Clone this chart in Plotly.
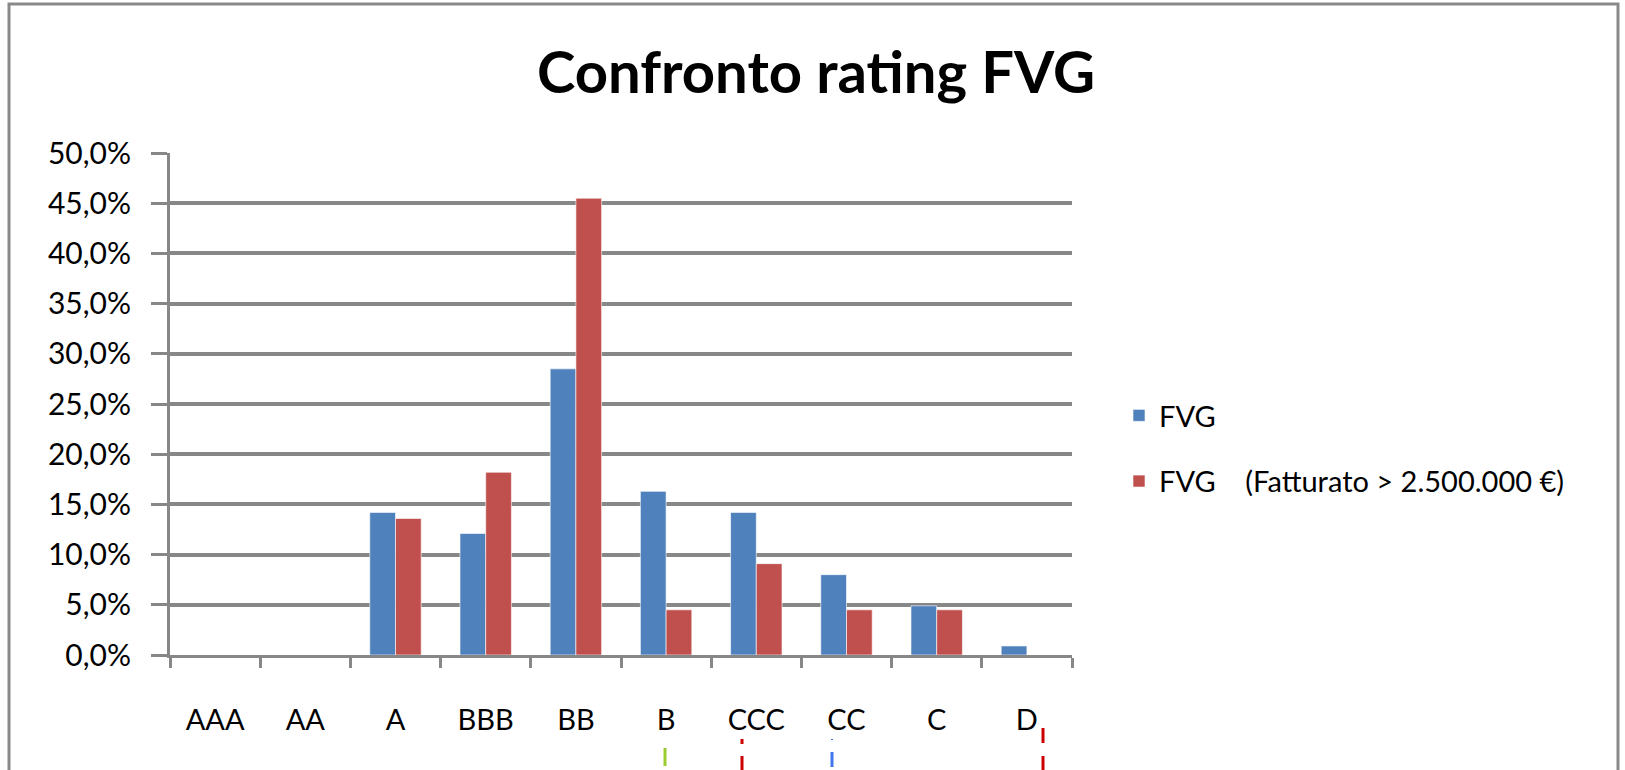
import plotly.graph_objects as go

categories = ["AAA", "AA", "A", "BBB", "BB", "B", "CCC", "CC", "C", "D"]
fvg_all = [0.0, 0.0, 0.142, 0.121, 0.285, 0.163, 0.142, 0.080, 0.049, 0.009]
fvg_big = [0.0, 0.0, 0.136, 0.182, 0.455, 0.045, 0.091, 0.045, 0.045, 0.0]
series_names = ["FVG", "FVG\u00a0\u00a0\u00a0\u00a0(Fatturato > 2.500.000 €)"]
y_ticks = [0.0, 0.05, 0.10, 0.15, 0.20, 0.25, 0.30, 0.35, 0.40, 0.45, 0.50]
title_text = "Confronto rating FVG"

W, H = 1625, 770
L, R, T, B = 170, 553, 153, 115
PW, PH = W - L - R, H - T - B

def px(x):
    return (x - L) / PW

def py(y):
    return (H - B - y) / PH

FONT = "Lato"
GRID = "#878787"

fig = go.Figure()
fig.add_trace(go.Bar(x=categories, y=fvg_all, name=series_names[0],
                     marker=dict(color="#4F81BD", line=dict(color="rgba(255,255,255,0.6)", width=1)),
                     legendgroup="a"))
fig.add_trace(go.Bar(x=categories, y=fvg_big, name=series_names[1],
                     marker=dict(color="#C0504D", line=dict(color="rgba(255,255,255,0.6)", width=1)),
                     legendgroup="b"))

shapes = [
    dict(type="rect", xref="paper", yref="paper", x0=px(9), x1=px(1618), y0=py(4), y1=py(790),
         line=dict(color="#8a8a8a", width=3), fillcolor="rgba(0,0,0,0)", layer="below"),
    dict(type="line", xref="paper", yref="paper", x0=px(665), x1=px(665), y0=py(748), y1=py(766),
         line=dict(color="#9ACD32", width=3)),
    dict(type="line", xref="paper", yref="paper", x0=px(742), x1=px(742), y0=py(739), y1=py(744),
         line=dict(color="#CC0000", width=3)),
    dict(type="line", xref="paper", yref="paper", x0=px(742), x1=px(742), y0=py(756), y1=py(775),
         line=dict(color="#CC0000", width=3)),
    dict(type="line", xref="paper", yref="paper", x0=px(832), x1=px(832), y0=py(739), y1=py(740),
         line=dict(color="#4477EE", width=2)),
    dict(type="line", xref="paper", yref="paper", x0=px(832), x1=px(832), y0=py(752), y1=py(767),
         line=dict(color="#4477EE", width=3)),
    dict(type="line", xref="paper", yref="paper", x0=px(1043), x1=px(1043), y0=py(728), y1=py(743),
         line=dict(color="#CC0000", width=3)),
    dict(type="line", xref="paper", yref="paper", x0=px(1043), x1=px(1043), y0=py(756), y1=py(775),
         line=dict(color="#CC0000", width=3)),
]

fig.update_layout(
    width=W, height=H,
    margin=dict(l=L, r=R, t=T, b=B, pad=0),
    paper_bgcolor="white", plot_bgcolor="white",
    separators=",.",
    barmode="group", bargap=0.43, bargroupgap=0,
    font=dict(family=FONT, size=28, color="black"),
    title=dict(text="<b>" + title_text + "</b>", x=816 / W, xanchor="center",
               y=1 - 73 / H, yanchor="middle",
               font=dict(family=FONT, size=58, color="black")),
    showlegend=True,
    legend=dict(x=px(1119), xanchor="left", y=py(390), yanchor="top",
                font=dict(family=FONT, size=29, color="black"),
                tracegroupgap=25, bgcolor="rgba(0,0,0,0)"),
    xaxis=dict(showline=True, linecolor=GRID, linewidth=3,
               ticks="outside", tickson="boundaries", ticklen=10, tickwidth=3, tickcolor=GRID,
               ticklabelstandoff=37, showgrid=False, zeroline=False,
               tickfont=dict(family=FONT, size=29, color="black")),
    yaxis=dict(range=[0, 0.5], tickvals=y_ticks, tickformat=".1%",
               showline=True, linecolor=GRID, linewidth=3,
               ticks="outside", ticklen=16, tickwidth=3, tickcolor=GRID,
               showgrid=True, gridcolor=GRID, gridwidth=3.5, zeroline=False,
               ticklabelstandoff=14,
               tickfont=dict(family=FONT, size=30, color="black")),
    shapes=shapes,
)

fig.write_html("out.html", config={"displayModeBar": False},
               post_script="document.body.style.margin='0';")
